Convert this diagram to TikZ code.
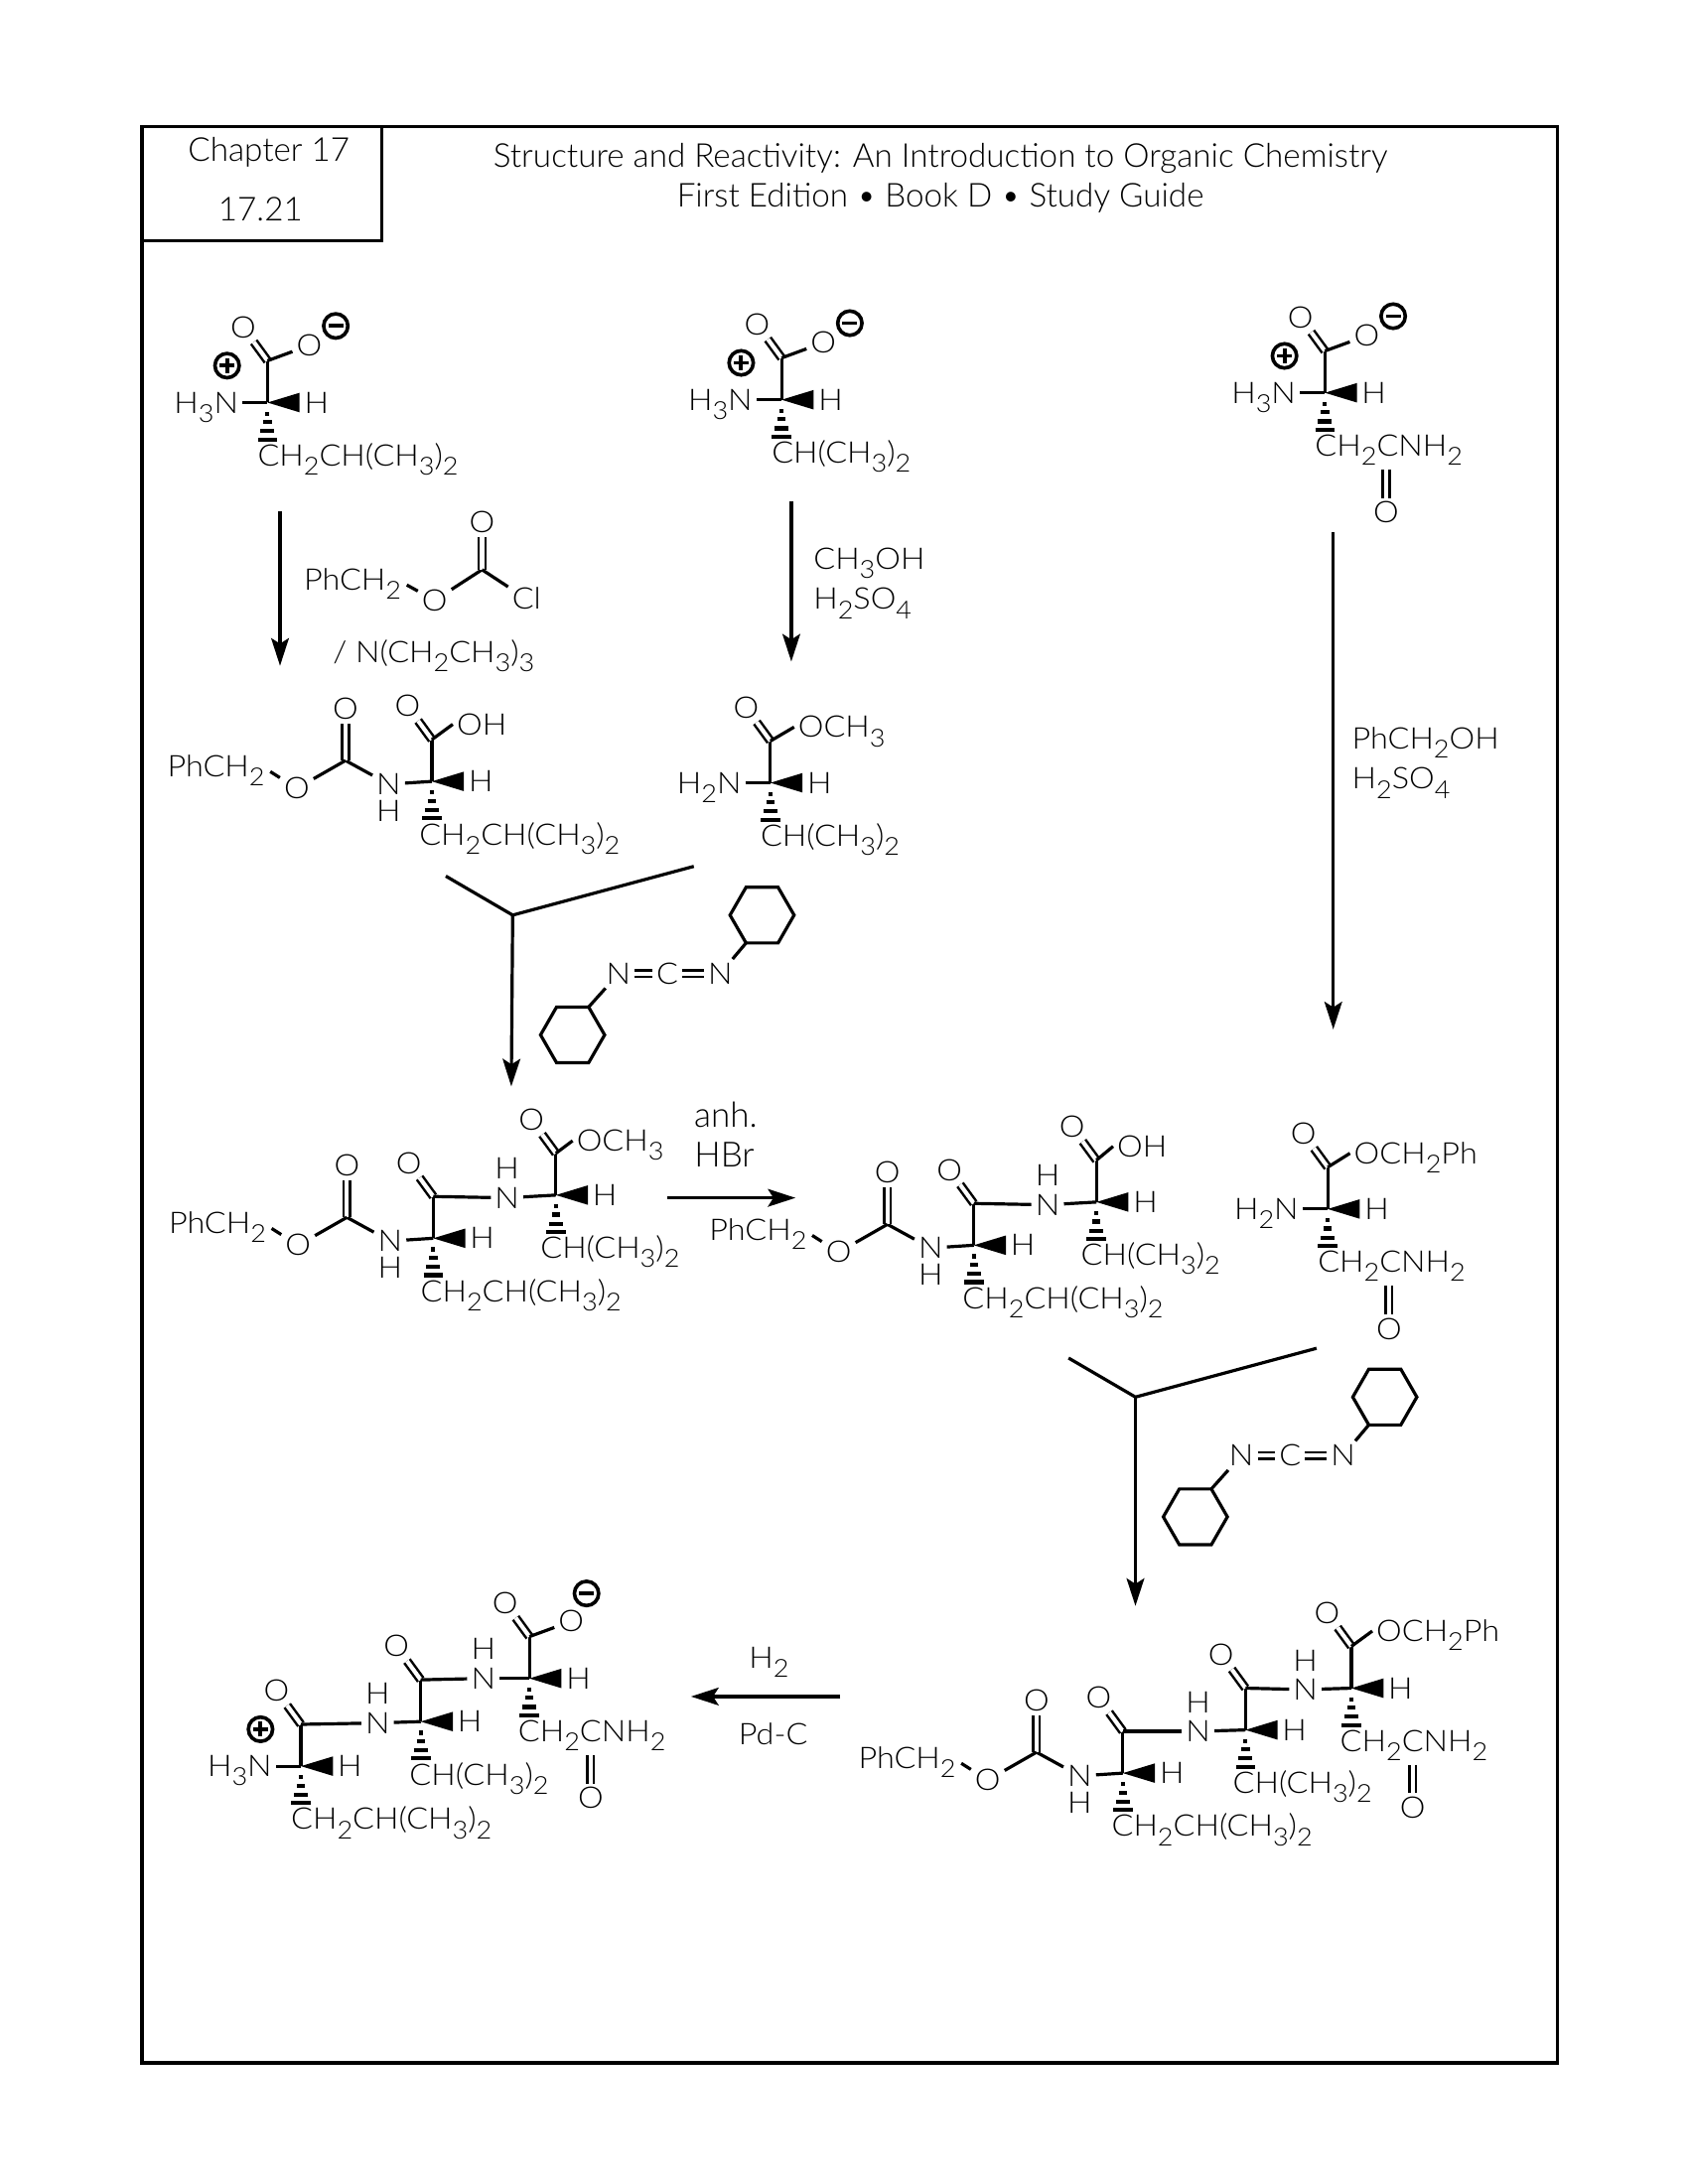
\documentclass[tikz,border=0pt]{standalone}
\usepackage{fontspec}
\setmainfont{Lato Light}
\newfontfamily\atomfont{Lato Light}[FakeStretch=1.08]
\usetikzlibrary{arrows.meta,calc}
\newcommand\sbs[1]{\raisebox{-3.3pt}{\fontsize{9}{9}\selectfont #1}}
\newcommand\Leu{CH\sbs2CH(CH\sbs3)\sbs2}
\newcommand\Val{CH(CH\sbs3)\sbs2}
\newcommand\Asn{CH\sbs2CNH\sbs2}
\tikzset{
  bond/.style={line width=1.15pt},
  dbl/.style={line width=.9pt,double,double distance=1.5pt},
  atom/.style={inner sep=1.5pt,outer sep=0pt,text height=7.6pt,text depth=0pt,font=\atomfont\fontsize{10.8}{12}\selectfont},
  txt/.style={inner sep=0pt,font=\fontsize{11.95}{13}\selectfont},
  lab/.style={inner sep=0pt,font=\fontsize{12.6}{13}\selectfont},
  rxn/.style={line width=1.15pt,-{Stealth[length=10pt,width=6.4pt,inset=2pt]}},
  brk/.style={line width=1.15pt},
  frame/.style={line width=1.25pt},
  chg/.style={circle,draw,line width=1.3pt,minimum size=8.8pt,inner sep=0pt},
}
% stereocentre with carbonyl
\newcommand\aacore[5]{%
 \begin{scope}[shift={(#2,#3)},name prefix=#1-]
  \coordinate (c) at (0,0);
  \coordinate (co) at (0,-30);
  \node[atom] (O) at (-17.5,-54) {O};
  \node[atom,anchor=west] (H) at (23.5,0) {H};
  \node[atom,anchor=west] (R) at (#5-3,38) {#4};
  \draw[bond] (co)--(c);
  \draw[dbl] (co)--(O);
  \fill (c)--(23,-7)--(23,7)--cycle;
  \draw[line width=1.5pt] (-1.5,8)--(1.5,8) (-3,14)--(3,14) (-5,20.5)--(5,20.5) (-7,26.5)--(7,26.5);
 \end{scope}}
% carboxyl tail
\newcommand\tail[5]{%
 \path (#1-c) ++(#3-3,#4) node[atom,anchor=west] (#1-t) {#2};
 \draw[bond] (#1-co)--(#1-t.west);}
% ammonium / amine
\newcommand\amine[2]{%
 \path (#1-c) ++(-18,0) node[atom,anchor=east] (#1-N) {#2};
 \draw[bond] (#1-N)--(#1-c);}
\newcommand\minuscharge[3]{%
 \path (#1-c) ++(#2,#3) node[chg] (#1-mi) {};
 \draw[line width=1.4pt] ([xshift=-2.7pt]#1-mi.center)--([xshift=2.7pt]#1-mi.center);}
\newcommand\pluscharge[1]{%
 \path (#1-c) ++(-29,-26.5) node[chg] (#1-pl) {};
 \draw[line width=1.4pt] ([xshift=-2.7pt]#1-pl.center)--([xshift=2.7pt]#1-pl.center)
   ([yshift=-2.7pt]#1-pl.center)--([yshift=2.7pt]#1-pl.center);}
\newcommand\oxide[3]{%
 \path (#1-c) ++(30,-41) node[atom] (#1-t) {O};
 \draw[bond] (#1-co)--(#1-t);
 \minuscharge{#1}{#2}{#3}}
% side-chain amide C=O of asparagine
\newcommand\asnO[1]{%
 \path (#1-c) ++(44,86) node[atom] (#1-Oa) {O};
 \path (#1-c) ++(44,55) coordinate (#1-Ca);
 \draw[dbl] (#1-Ca)--(#1-Oa);}
% benzyl carbamate on the N of a centre
\newcommand\cbz[1]{%
 \begin{scope}[shift={(#1-c)},name prefix=#1-]
  \node[atom] (Nc) at (-31,2) {N};
  \node[atom] (HN) at (-31,21) {H};
  \coordinate (Cc) at (-62,-15);
  \node[atom] (Oc) at (-62,-52) {O};
  \node[atom] (Oe) at (-97,5) {O};
  \node[atom,anchor=east] (Ph) at (-117,-11) {PhCH\sbs2};
  \draw[bond] (Nc)--(0,0);
  \draw[bond] (Nc)--(Cc);
  \draw[dbl] (Cc)--(Oc);
  \draw[bond] (Cc)--(Oe);
  \draw[bond] ([shift={(.5pt,-2pt)}]Ph.east)--(Oe);
 \end{scope}}
% amide link: carbonyl of \fromP through N to centre #1
\newcommand\amideii[4]{%
 \path (#1-c) ++(#2,#3) node[atom] (#1-Na) {N};
 \path (#1-Na) ++(0,-21) node[atom] (#1-HNa) {H};
 \draw[bond] (#1-Na)--(#1-c);
 \draw[bond] (\fromP-co)--(#1-Na);}
\newcommand\dcc[3]{%
 \begin{scope}[shift={(#2,#3)},name prefix=#1-]
  \draw[bond] (23,0)--(11.5,20)--(-11.5,20)--(-23,0)--(-11.5,-20)--(11.5,-20)--cycle;
  \coordinate (a1) at (-11.5,20);
  \node[atom] (N1) at (-30,42) {N};
  \node[atom] (Cd) at (-68,42) {C};
  \node[atom] (N2) at (-103,42) {N};
  \coordinate (a2) at (-124.5,66);
  \draw[bond] (a1)--(N1);
  \draw[dbl] (N1)--(Cd);
  \draw[dbl] (Cd)--(N2);
  \draw[bond] (N2)--(a2);
  \draw[bond] (-124.5,66)--(-113,86)--(-124.5,106)--(-147.5,106)--(-159,86)--(-147.5,66)--cycle;
 \end{scope}}
\newcommand\brk[3]{%
 \begin{scope}[shift={(#2,#3)},name prefix=#1-]
  \coordinate (l) at (-48,-28);
  \coordinate (m) at (0,0);
  \coordinate (r) at (130,-35);
  \draw[brk,line join=miter] (l)--(m)--(r);
 \end{scope}}
\begin{document}
\begin{tikzpicture}[x=.505pt,y=-.505pt]
\useasboundingbox (0,0) rectangle (1211.88,1568);
\fill[white] (0,0) rectangle (1211.88,1568);
% frame
\draw[frame] (102,91) rectangle (1118,1481);
\draw[frame] (102,91) rectangle (274,173);
\node[txt] (ch) at (193,109) {Chapter 17};
\node[txt] (num) at (187,150) {17.21};
\node[txt] (t1) at (675,113.5) {Structure and Reactivity: An Introduction to Organic Chemistry};
\node[txt] (t2) at (675,142) {First Edition • Book D • Study Guide};

% A
\aacore{A}{192}{289}{\Leu}{-7}
\amine{A}{H\sbs3N}\oxide{A}{49}{-55}\pluscharge{A}
% B
\aacore{B}{561}{287}{\Val}{-7}
\amine{B}{H\sbs3N}\oxide{B}{49}{-55}\pluscharge{B}
% C
\aacore{C}{951}{282}{\Asn}{-7}
\amine{C}{H\sbs3N}\oxide{C}{49}{-55}\pluscharge{C}\asnO{C}
% reaction arrows row 1
\coordinate (a1s) at (201,367); \coordinate (a1e) at (201,478);
\draw[rxn] (a1s)--(a1e);
\coordinate (a2s) at (568,360); \coordinate (a2e) at (568,475);
\draw[rxn] (a2s)--(a2e);
\coordinate (a3s) at (957,382); \coordinate (a3e) at (957,739);
\draw[rxn] (a3s)--(a3e);
% Cbz-Cl
\node[atom,anchor=east] (rPh) at (291,416) {PhCH\sbs2};
\node[atom] (rO) at (312,431) {O};
\coordinate (rC) at (346,409);
\node[atom] (rOd) at (346,375) {O};
\node[atom] (rCl) at (378,430) {Cl};
\draw[bond] ([shift={(.5pt,-2pt)}]rPh.east)--(rO);
\draw[bond] (rO)--(rC);
\draw[dbl] (rC)--(rOd);
\draw[bond] (rC)--(rCl);
\node[atom,anchor=west] (rB) at (236,468) {/ N(CH\sbs2CH\sbs3)\sbs3};
\node[atom,anchor=west] (r2a) at (581,401) {CH\sbs3OH};
\node[atom,anchor=west] (r2b) at (581,430) {H\sbs2SO\sbs4};
\node[atom,anchor=west] (r3a) at (967.5,530) {PhCH\sbs2OH};
\node[atom,anchor=west] (r3b) at (967.5,559) {H\sbs2SO\sbs4};

% D
\aacore{D}{310}{561}{\Leu}{-9}
\cbz{D}\tail{D}{OH}{18}{-41}{}
% E
\aacore{E}{553}{562}{\Val}{-7}
\amine{E}{H\sbs2N}\tail{E}{OCH\sbs3}{20}{-40}{}
% bracket & DCC 1
\brk{b1}{368}{657}
\coordinate (b1e) at (367,780);
\draw[rxn] (b1-m)--(b1e);
\dcc{d1}{547}{657}

% F
\aacore{F1}{311}{889}{\Leu}{-9}
\cbz{F1}
\aacore{F2}{399}{858}{\Val}{-11}
\def\fromP{F1}\amideii{F2}{-35}{2}{}
\tail{F2}{OCH\sbs3}{15}{-39}{}
% F -> G
\coordinate (a4s) at (479,860); \coordinate (a4e) at (571,860);
\draw[rxn] (a4s)--(a4e);
\node[lab] (anh) at (521,800) {anh.};
\node[lab] (hbr) at (520,829) {HBr};
% G
\aacore{G1}{699}{894}{\Leu}{-8}
\cbz{G1}
\aacore{G2}{787}{863}{\Val}{-11}
\def\fromP{G1}\amideii{G2}{-35}{2}{}
\tail{G2}{OH}{15}{-40}{}
% H
\aacore{H}{953}{868}{\Asn}{-7}
\amine{H}{H\sbs2N}\tail{H}{OCH\sbs2Ph}{19}{-40}{}\asnO{H}
% bracket & DCC 2
\brk{b2}{815}{1003}
\coordinate (b2e) at (815,1153);
\draw[rxn] (b2-m)--(b2e);
\dcc{d2}{994}{1003}

% I
\aacore{I1}{806}{1273}{\Leu}{-8}
\cbz{I1}
\aacore{I2}{894}{1242}{\Val}{-9}
\def\fromP{I1}\amideii{I2}{-34}{1}{}
\aacore{I3}{970}{1212}{\Asn}{-8}
\def\fromP{I2}\amideii{I3}{-33}{1}{}
\tail{I3}{OCH\sbs2Ph}{18}{-41}{}\asnO{I3}
% I -> J
\coordinate (a5s) at (603,1218); \coordinate (a5e) at (496,1218);
\draw[rxn] (a5s)--(a5e);
\node[atom] (h2) at (552,1190) {H\sbs2};
\node[atom] (pd) at (555,1245) {Pd-C};
% J
\aacore{J1}{216}{1268}{\Leu}{-7}
\amine{J1}{H\sbs3N}\pluscharge{J1}
\aacore{J2}{302}{1236}{\Val}{-8}
\def\fromP{J1}\amideii{J2}{-31}{1}{}
\aacore{J3}{380}{1205}{\Asn}{-8}
\def\fromP{J2}\amideii{J3}{-33}{0}{}
\oxide{J3}{41}{-61}\asnO{J3}
\end{tikzpicture}
\end{document}
